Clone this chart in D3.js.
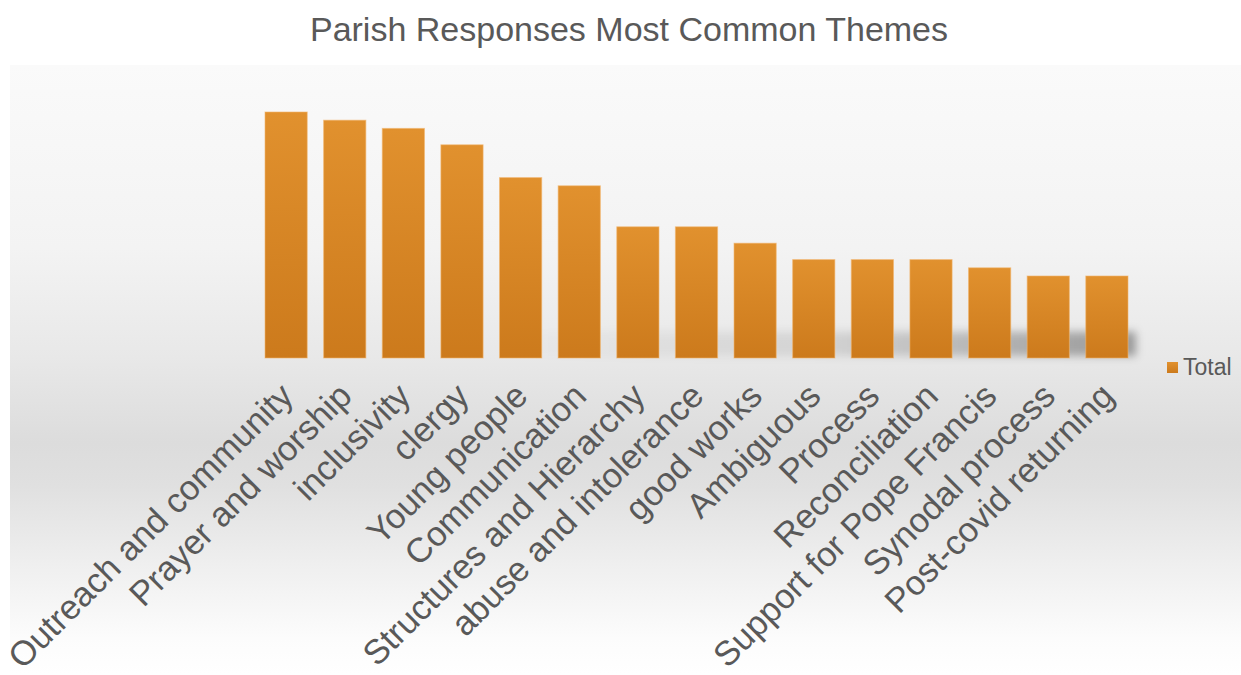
<!DOCTYPE html>
<html>
<head>
<meta charset="utf-8">
<script src="https://cdn.jsdelivr.net/npm/d3@7"></script>
<style>
  html, body { margin: 0; padding: 0; background: #ffffff; }
  svg { display: block; font-family: "Liberation Sans", Arial, Helvetica, sans-serif; }
</style>
</head>
<body>
<svg id="chart" width="1241" height="675"></svg>
<script>
// Themes, in descending order of frequency
const themes = [
  "Outreach and community", "Prayer and worship", "inclusivity", "clergy",
  "Young people", "Communication", "Structures and Hierarchy",
  "abuse and intolerance", "good works", "Ambiguous", "Process",
  "Reconciliation", "Support for Pope Francis", "Synodal process",
  "Post-covid returning"
];
const totals = [30, 29, 28, 26, 22, 21, 16, 16, 14, 12, 12, 12, 11, 10, 10];
const seriesName = "Total";
const chartTitle = "Parish Responses Most Common Themes";

const W = 1241, H = 675;
const svg = d3.select("#chart");
const defs = svg.append("defs");

// Chart-area backdrop: light at the top, grey band under the axis, fading to white
const bg = defs.append("linearGradient").attr("id", "bgGrad")
  .attr("x1", 0).attr("y1", 0).attr("x2", 0).attr("y2", 1);
[[0, "#fafafa"], [0.3, "#f3f3f3"], [0.48, "#e8e8e8"], [0.62, "#dcdcdc"],
 [0.69, "#e0e0e0"], [0.82, "#efefef"], [0.94, "#fcfcfc"], [1, "#ffffff"]]
  .forEach(([o, c]) => bg.append("stop").attr("offset", o).attr("stop-color", c));

// Bar fill: lighter orange at the top, deeper at the base
const barGrad = defs.append("linearGradient").attr("id", "barGrad")
  .attr("x1", 0).attr("y1", 0).attr("x2", 0).attr("y2", 1);
barGrad.append("stop").attr("offset", 0).attr("stop-color", "#e1912e");
barGrad.append("stop").attr("offset", 1).attr("stop-color", "#cc7a1c");

// Soft floor shadow behind the bars
const shGrad = defs.append("linearGradient").attr("id", "shadowGrad")
  .attr("x1", 0).attr("y1", 0).attr("x2", 1).attr("y2", 0);
shGrad.append("stop").attr("offset", 0).attr("stop-color", "#000").attr("stop-opacity", 0);
shGrad.append("stop").attr("offset", 0.5).attr("stop-color", "#000").attr("stop-opacity", 0.1);
shGrad.append("stop").attr("offset", 1).attr("stop-color", "#000").attr("stop-opacity", 0.34);
defs.append("filter").attr("id", "blur").attr("x", "-10%").attr("y", "-50%")
  .attr("width", "120%").attr("height", "200%")
  .append("feGaussianBlur").attr("stdDeviation", 4);

svg.append("rect").attr("x", 10).attr("y", 65).attr("width", W - 10).attr("height", H - 65)
  .attr("fill", "url(#bgGrad)");

// Scales
const x = d3.scaleBand().domain(themes).range([256.8, 1136.2])
  .paddingInner(0.28).paddingOuter(0.14);
const y = d3.scaleLinear().domain([0, 35]).range([358, 71]);

// Shadow strip along the base of the bars
const x0 = x(themes[5]) - 40, x1 = x(themes[themes.length - 1]) + x.bandwidth() + 8;
svg.append("rect")
  .attr("x", x0).attr("y", y(3.2)).attr("width", x1 - x0).attr("height", y(0) - y(3.2) - 2)
  .attr("fill", "url(#shadowGrad)").attr("filter", "url(#blur)");

// Bars
svg.append("g").selectAll("rect").data(totals).join("rect")
  .attr("x", (d, i) => x(themes[i]))
  .attr("y", d => y(d))
  .attr("width", x.bandwidth())
  .attr("height", d => y(0) - y(d))
  .attr("fill", "url(#barGrad)")
  .attr("stroke", "#f2b46a").attr("stroke-opacity", 0.6).attr("stroke-width", 1);

// Category axis: rotated labels, no line or ticks
const axis = svg.append("g").attr("transform", `translate(0,${y(0)})`)
  .call(d3.axisBottom(x).tickSize(0).tickPadding(0));
axis.select(".domain").remove();
axis.selectAll(".tick text")
  .attr("text-anchor", "end")
  .attr("dy", 0)
  .attr("transform", "translate(9,40) rotate(-45)")
  .attr("fill", "#595959")
  .style("font-size", "34.5px")
  .style("font-family", "'Liberation Sans', Arial, sans-serif");

// Title
svg.append("text").attr("x", 629).attr("y", 41).attr("text-anchor", "middle")
  .attr("fill", "#595959").style("font-size", "34px").text(chartTitle);

// Legend
const lg = svg.append("g").attr("transform", "translate(1167,362)");
lg.append("rect").attr("width", 11).attr("height", 11).attr("fill", "url(#barGrad)");
lg.append("text").attr("x", 16).attr("y", 13).attr("fill", "#595959")
  .style("font-size", "23px").text(seriesName);
</script>
</body>
</html>
